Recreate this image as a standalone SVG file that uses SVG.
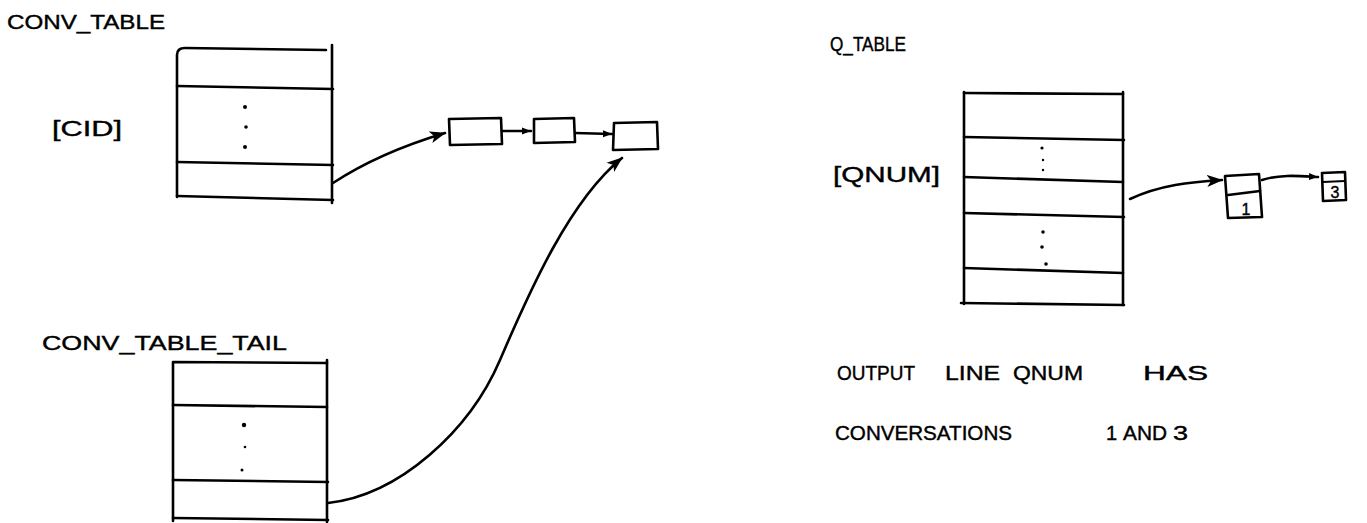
<svg xmlns="http://www.w3.org/2000/svg" width="1367" height="523" viewBox="0 0 1367 523">
<style>
.ln{fill:none;stroke:#000;stroke-width:2.6;stroke-linecap:round;stroke-linejoin:round}
.thin{fill:none;stroke:#000;stroke-width:2;stroke-linecap:round}
.t{font-family:"Liberation Sans",Arial,sans-serif;fill:#000;stroke:#000;stroke-width:0.4}
.dot{fill:#000}
</style>
<defs>
<marker id="ah" markerUnits="userSpaceOnUse" markerWidth="18" markerHeight="14" refX="15" refY="7" orient="auto">
<path d="M0,1 L16,7 L0,13 L4,7 Z" fill="#000"/>
</marker>
<marker id="ahs" markerUnits="userSpaceOnUse" markerWidth="10" markerHeight="8" refX="9" refY="4" orient="auto">
<path d="M0,0.5 L9,4 L0,7.5 Z" fill="#000"/>
</marker>
</defs>
<rect width="1367" height="523" fill="#fff"/>

<g id="conv_table">
<text class="t" x="7" y="29" font-size="20" textLength="158" lengthAdjust="spacingAndGlyphs">CONV_TABLE</text>
<path class="ln" d="M177,197 L177,55 Q177,48 185,48 L326,50"/>
<path class="ln" d="M332,45 L332,203"/>
<path class="ln" d="M177,86 L333,89"/>
<path class="ln" d="M177,162 L333,165"/>
<path class="ln" d="M177,196 L333,200"/>
<circle class="dot" cx="245" cy="107" r="2"/>
<circle class="dot" cx="246" cy="127" r="1.8"/>
<circle class="dot" cx="245" cy="147" r="2"/>
<text class="t" x="52" y="136" font-size="22" textLength="70" lengthAdjust="spacingAndGlyphs">[CID]</text>
</g>

<g id="list_node_1">
<path class="ln" d="M449,119 L501,118 L502,144 L450,145 Z"/>
</g>
<g id="list_node_2">
<path class="ln" d="M534,119 L574,118 L575,142 L534,143 Z"/>
</g>
<g id="list_node_3">
<path class="ln" d="M614,123 L657,122 L658,149 L613,150 Z"/>
</g>

<g id="conv_table_tail">
<text class="t" x="42" y="350" font-size="21" textLength="245" lengthAdjust="spacingAndGlyphs">CONV_TABLE_TAIL</text>
<path class="ln" d="M173,521 L173,362 L327,363"/>
<path class="ln" d="M327,360 L327,522"/>
<path class="ln" d="M173,405 L327,407"/>
<path class="ln" d="M173,480 L328,482"/>
<path class="ln" d="M173,518 L328,520"/>
<circle class="dot" cx="244" cy="425" r="2.2"/>
<circle class="dot" cx="245" cy="447" r="1.3"/>
<circle class="dot" cx="242" cy="470" r="1.5"/>
</g>

<g id="q_table">
<text class="t" x="830" y="51" font-size="20" textLength="76" lengthAdjust="spacingAndGlyphs">Q_TABLE</text>
<path class="ln" d="M964,92 L964,304"/>
<path class="ln" d="M1123,92 L1123,305"/>
<path class="ln" d="M964,93 L1123,94"/>
<path class="ln" d="M964,137 L1124,140"/>
<path class="ln" d="M964,177 L1123,182"/>
<path class="ln" d="M964,213 L1124,217"/>
<path class="ln" d="M964,268 L1123,273"/>
<path class="ln" d="M961,303 L1124,305"/>
<circle class="dot" cx="1042" cy="148" r="1.6"/>
<circle class="dot" cx="1043" cy="160" r="1.2"/>
<circle class="dot" cx="1043" cy="170" r="1.2"/>
<circle class="dot" cx="1043" cy="232" r="1.8"/>
<circle class="dot" cx="1042" cy="247" r="1.8"/>
<circle class="dot" cx="1046" cy="264" r="1.8"/>
<text class="t" x="833" y="182" font-size="22" textLength="107" lengthAdjust="spacingAndGlyphs">[QNUM]</text>
</g>

<g id="q_node_1">
<path class="ln" d="M1225,176 L1259,174 L1262,217 L1228,218 Z"/>
<path class="ln" d="M1228,195 L1260,191"/>
<text class="t" x="1246" y="215" font-size="16" text-anchor="middle">1</text>
</g>
<g id="q_node_2">
<path class="ln" d="M1322,173 L1345,172 L1346,200 L1323,201 Z"/>
<path class="thin" d="M1323,182 L1345,181"/>
<text class="t" x="1335" y="198" font-size="16" text-anchor="middle">3</text>
</g>

<g id="connectors">
<path class="ln" d="M333,183 C365,162 405,145 445,133" marker-end="url(#ah)"/>
<path class="ln" d="M502,131 L531,131" marker-end="url(#ahs)"/>
<path class="ln" d="M575,133 L612,134" marker-end="url(#ahs)"/>
<path class="ln" d="M328,503 C400,495 470,430 500,360 C530,290 570,200 622,158" marker-end="url(#ah)"/>
<path class="ln" d="M1130,199 C1160,185 1190,182 1222,180" marker-end="url(#ah)"/>
<path class="ln" d="M1262,180 C1280,174 1300,176 1318,177" marker-end="url(#ahs)"/>
</g>

<g id="caption">
<text class="t" x="837" y="380" font-size="20" textLength="78" lengthAdjust="spacingAndGlyphs">OUTPUT</text>
<text class="t" x="945" y="380" font-size="20" textLength="55" lengthAdjust="spacingAndGlyphs">LINE</text>
<text class="t" x="1013" y="380" font-size="20" textLength="70" lengthAdjust="spacingAndGlyphs">QNUM</text>
<text class="t" x="1143" y="380" font-size="20" textLength="65" lengthAdjust="spacingAndGlyphs">HAS</text>
<text class="t" x="835" y="440" font-size="20" textLength="177" lengthAdjust="spacingAndGlyphs">CONVERSATIONS</text>
<text class="t" x="1106" y="440" font-size="20">1</text>
<text class="t" x="1123" y="440" font-size="20" textLength="44" lengthAdjust="spacingAndGlyphs">AND</text>
<text class="t" x="1173" y="440" font-size="20" textLength="15" lengthAdjust="spacingAndGlyphs">3</text>
</g>
</svg>
